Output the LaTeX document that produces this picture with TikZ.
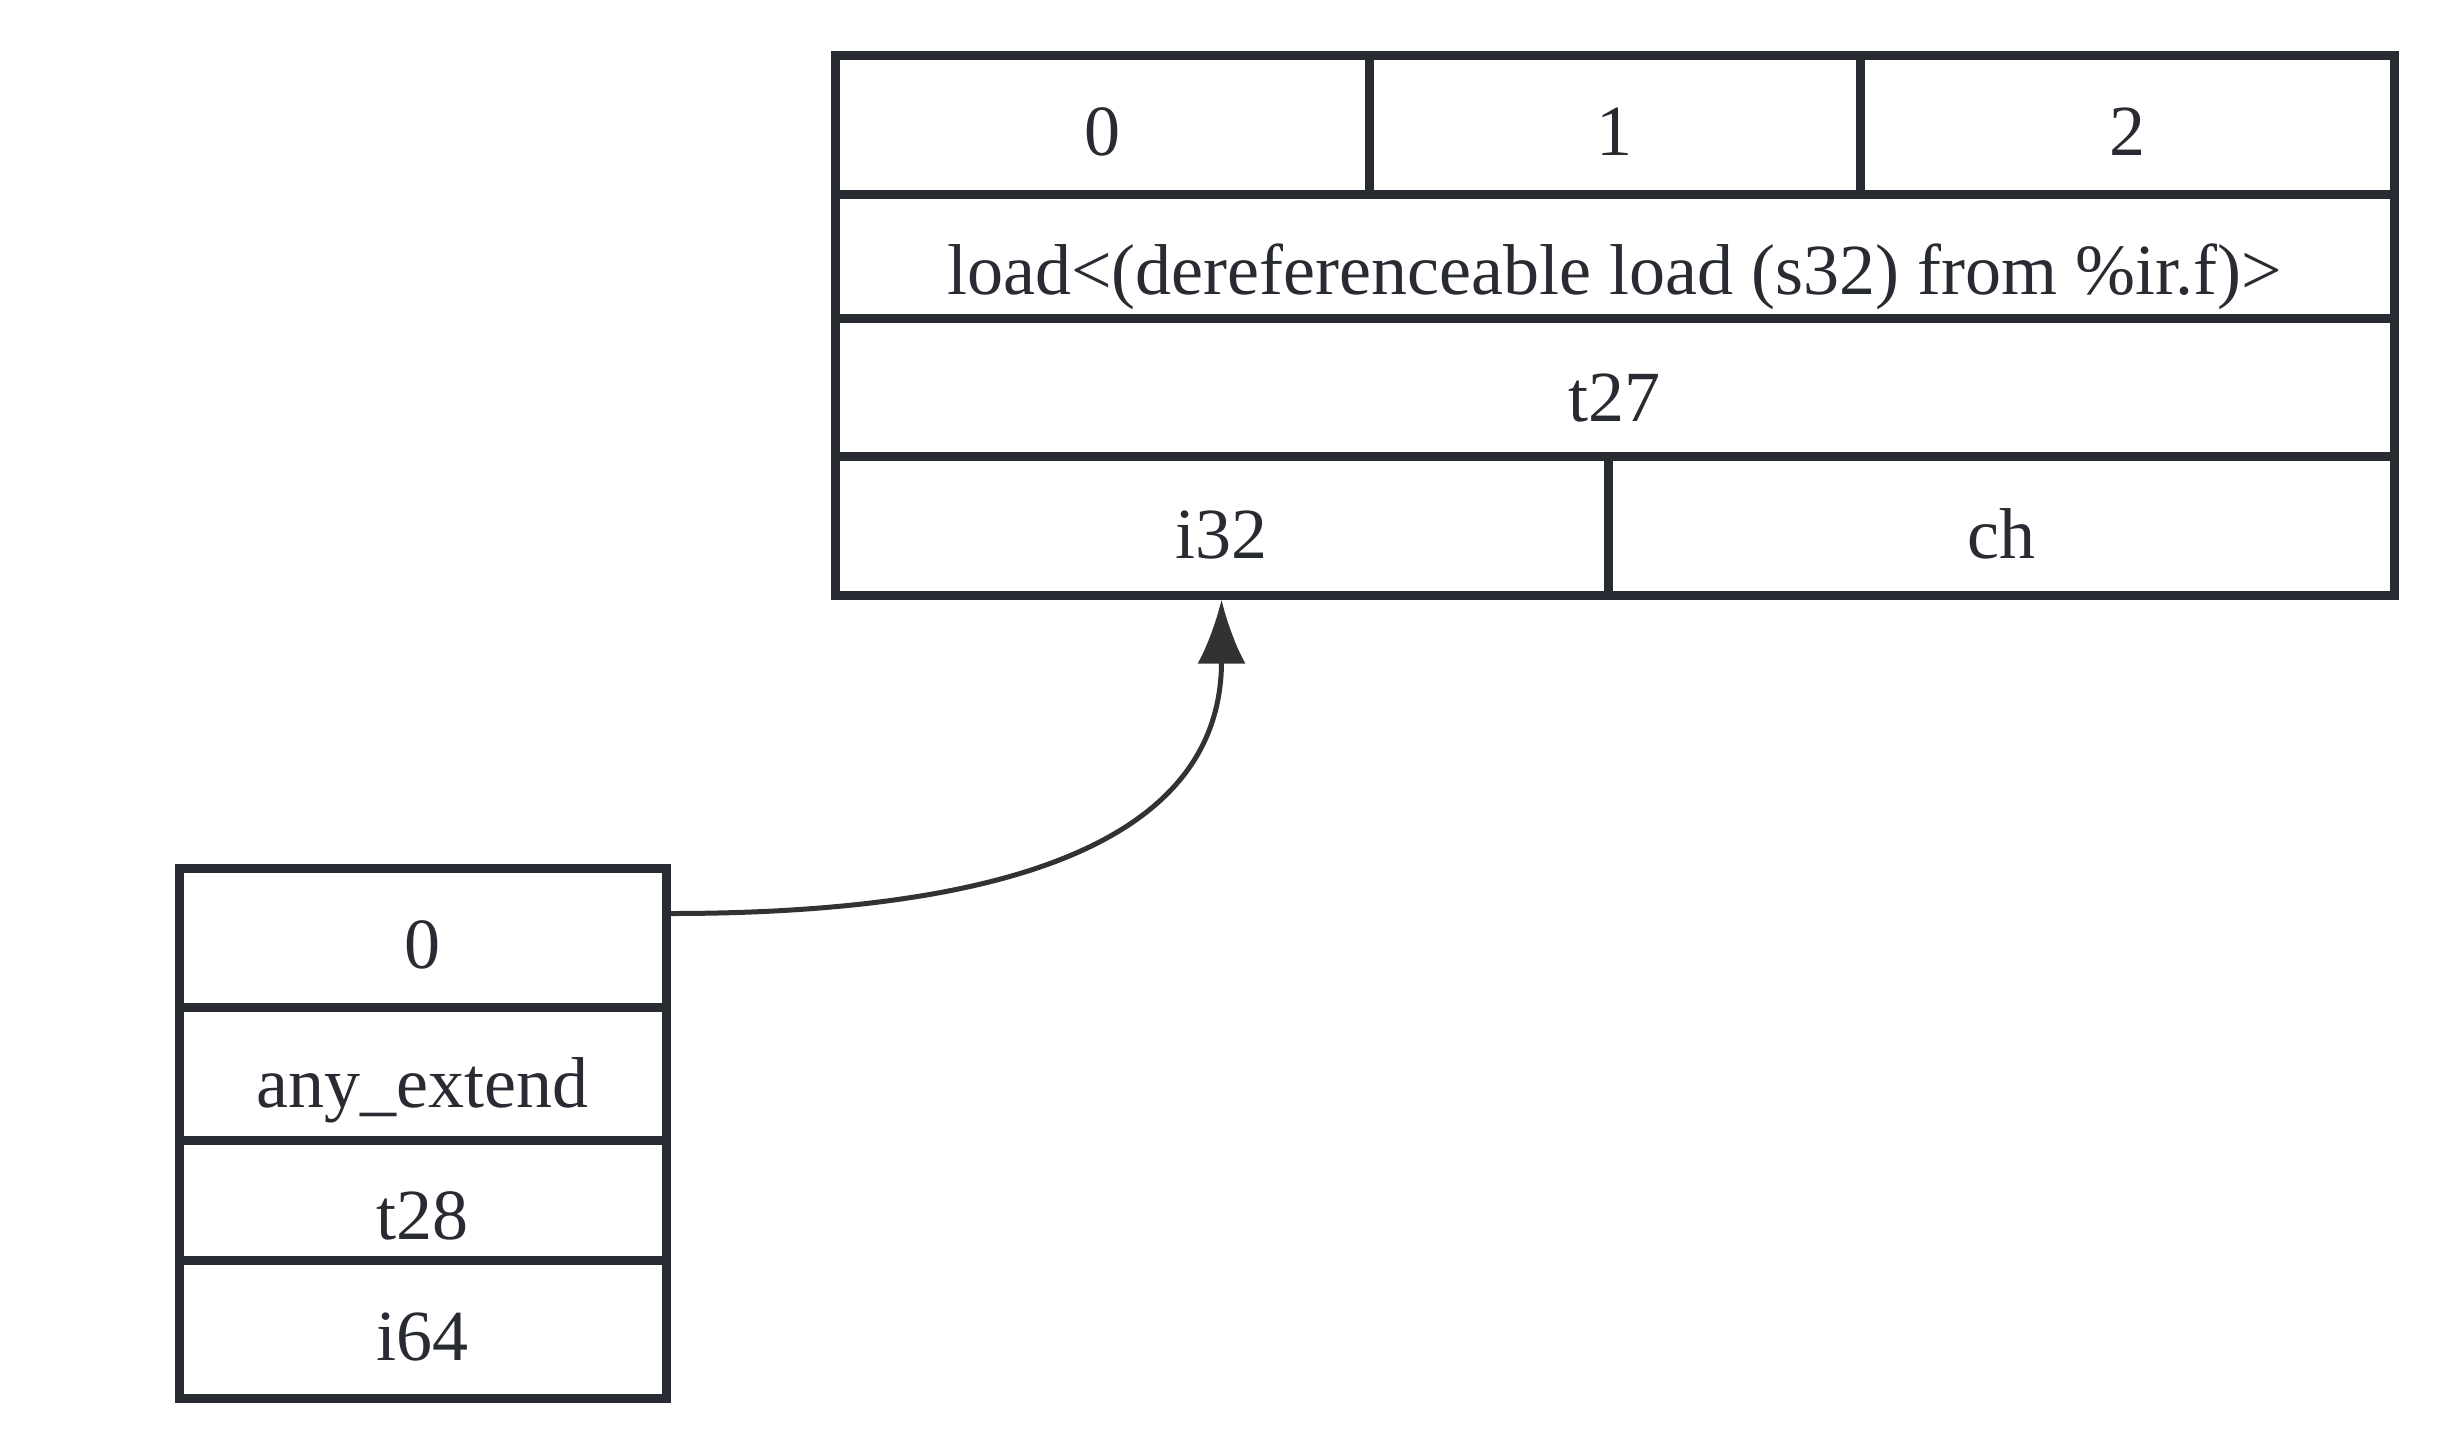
\documentclass[tikz,border=0pt]{standalone}
\usepackage{fontspec}
\setmainfont{Liberation Serif}
\usetikzlibrary{arrows.meta}
\definecolor{ln}{RGB}{40,44,50}
\definecolor{arr}{RGB}{50,50,50}
\begin{document}
\begin{tikzpicture}[x=1pt,y=-1pt,
  cell/.style={draw=ln, line width=9pt, inner sep=0pt, text height=66pt, text depth=4pt,
    font=\fontsize{72pt}{80pt}\selectfont, text=ln},
  link/.style={draw=arr, line width=5pt, -{Latex[length=64pt,width=48pt]}}]
\useasboundingbox (0,0) rectangle (2456,1440);
% top record
\node[cell, minimum width=534pt, minimum height=139pt] (a0) at (1102,124.5) {0};
\node[cell, minimum width=491pt, minimum height=139pt] (a1) at (1614.5,124.5) {1};
\node[cell, minimum width=534pt, minimum height=139pt] (a2) at (2127,124.5) {2};
\node[cell, minimum width=1559pt, minimum height=124pt, text height=80pt] (aload) at (1614.5,256) {load<(dereferenceable load (s32) from \%ir.f)>};
\node[cell, minimum width=1559pt, minimum height=138pt, text height=72pt] (at) at (1614.5,387) {t27};
\node[cell, minimum width=773pt, minimum height=139pt, text height=70pt] (ai) at (1221.5,525.5) {i32};
\node[cell, minimum width=786pt, minimum height=139pt, text height=70pt] (ach) at (2001,525.5) {ch};
% left record
\node[cell, minimum width=487pt, minimum height=139pt] (b0) at (422.5,937.5) {0};
\node[cell, minimum width=487pt, minimum height=133pt, text height=72pt] (bext) at (422.5,1073.5) {any\_extend};
\node[cell, minimum width=487pt, minimum height=120pt, text height=82pt] (bt) at (422.5,1200) {t28};
\node[cell, minimum width=487pt, minimum height=138pt, text height=66pt] (bi) at (422.5,1329) {i64};
% connector
\draw[link] ([yshift=24pt]b0.east) .. controls +(340,0) and +(0,240) .. (ai.south);
\end{tikzpicture}
\end{document}
